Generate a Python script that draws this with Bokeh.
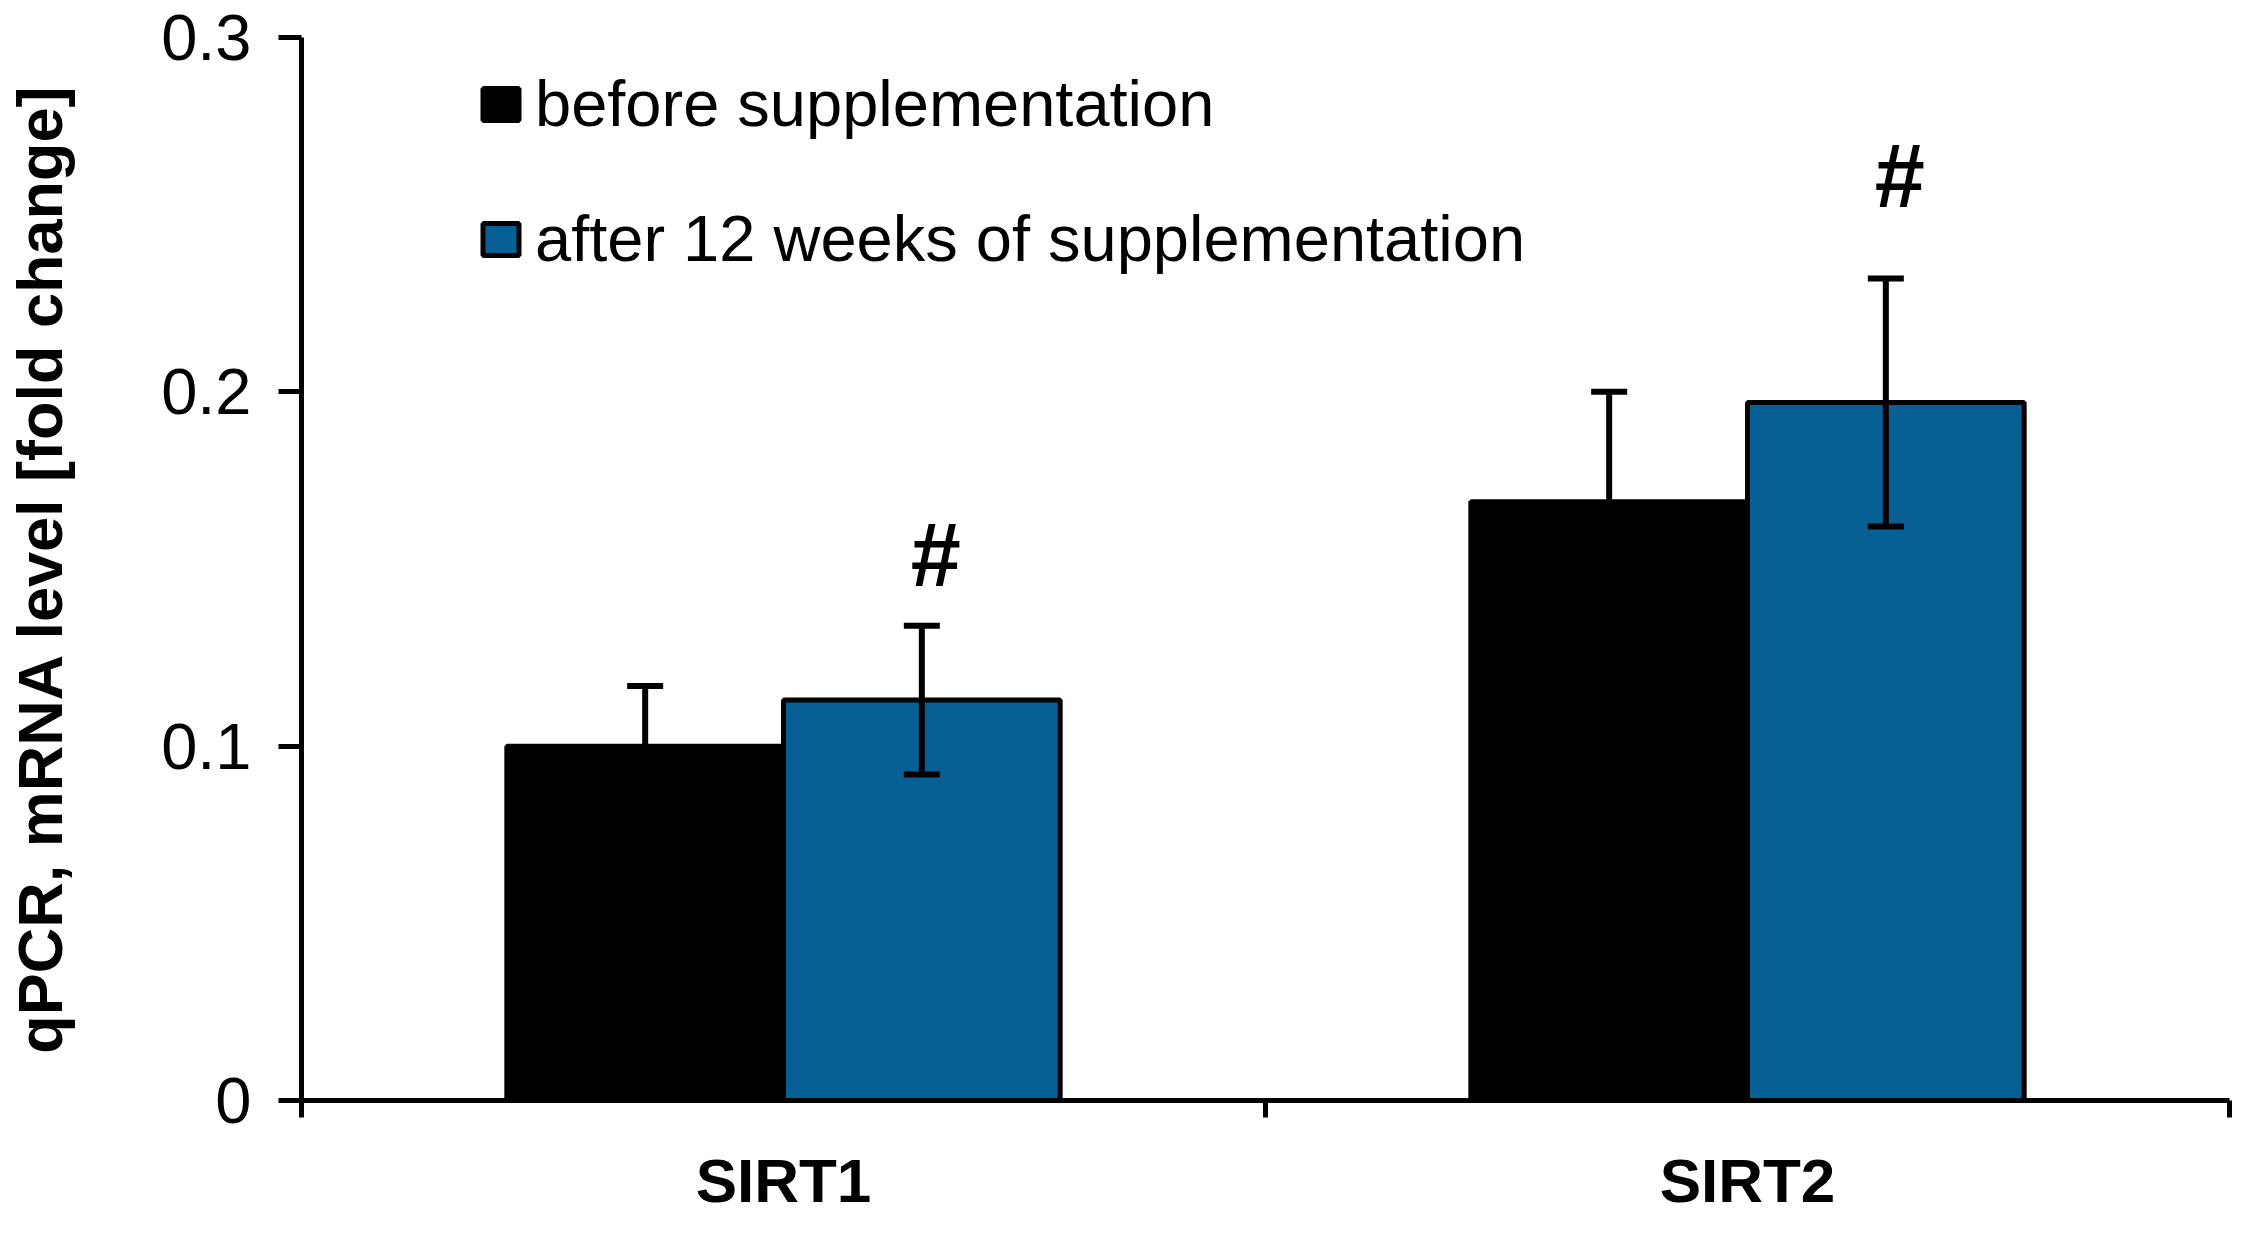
from bokeh.plotting import figure
from bokeh.models import (ColumnDataSource, Range1d, LinearAxis, FixedTicker,
                          Whisker, TeeHead, Legend, LegendItem)
from bokeh.core.properties import value
from bokeh.embed import file_html
from bokeh.resources import INLINE

# data
categories = ["SIRT1", "SIRT2"]
before = [0.100, 0.169]
before_err = [0.017, 0.031]
after = [0.113, 0.197]
after_err = [0.021, 0.035]
series_labels = ["before supplementation", "after 12 weeks of supplementation"]
marks = ["#", "#"]
mark_y = [0.154, 0.261]
y_ticks = [0, 0.1, 0.2, 0.3]
y_tick_labels = ["0", "0.1", "0.2", "0.3"]

FONT = "Liberation Sans"
BLUE = "#076094"
bar_w = 0.287
centers = [i + 0.5 for i in range(len(categories))]

src_before = ColumnDataSource(dict(
    x=[c - bar_w / 2 for c in centers], top=before,
    upper=[v + e for v, e in zip(before, before_err)],
    lower=[v - e for v, e in zip(before, before_err)]))
src_after = ColumnDataSource(dict(
    x=[c + bar_w / 2 for c in centers], top=after,
    upper=[v + e for v, e in zip(after, after_err)],
    lower=[v - e for v, e in zip(after, after_err)]))
src_marks = ColumnDataSource(dict(
    x=[c + bar_w / 2 for c in centers], y=mark_y, text=marks))

FRAME_H = 1063
p = figure(frame_width=1928, frame_height=FRAME_H,
           x_range=Range1d(0, len(categories)), y_range=Range1d(y_ticks[0], y_ticks[-1]),
           x_axis_type=None, y_axis_type=None,
           output_backend="svg", toolbar_location=None,
           min_border_left=301, min_border_right=5,
           min_border_top=37, min_border_bottom=10)
p.outline_line_color = None
p.background_fill_color = "white"

r1 = p.vbar(x="x", top="top", width=bar_w, source=src_before,
            fill_color="black", line_color="black", line_width=5)
r2 = p.vbar(x="x", top="top", width=bar_w, source=src_after,
            fill_color=BLUE, line_color="black", line_width=5)

for src in (src_before, src_after):
    w = Whisker(base="x", upper="upper", lower="lower", source=src,
                line_width=6, line_color="black", level="annotation",
                upper_head=TeeHead(size=36, line_width=6, line_color="black"),
                lower_head=TeeHead(size=36, line_width=6, line_color="black"))
    p.add_layout(w)

p.text(x="x", y="y", text="text", source=src_marks, x_offset=14,
       text_align="center", text_baseline="middle",
       text_font=value(FONT), text_font_style="bold", text_font_size="90px",
       text_color="black")

# y axis
yax = LinearAxis(ticker=FixedTicker(ticks=y_ticks, minor_ticks=[]))
yax.major_label_overrides = {t: l for t, l in zip(y_ticks, y_tick_labels)}
yax.axis_label = "qPCR, mRNA level [fold change]"
yax.axis_label_text_font = FONT
yax.axis_label_text_font_style = "bold"
yax.axis_label_text_font_size = "63px"
yax.axis_label_text_color = "black"
yax.axis_label_standoff = 83
yax.major_label_text_font = FONT
yax.major_label_text_font_size = "65px"
yax.major_label_text_color = "black"
yax.major_label_standoff = 27
yax.major_tick_in = 0
yax.major_tick_out = 23
yax.major_tick_line_width = 5
yax.axis_line_width = 5
p.add_layout(yax, "left")

# x axis: labels at category centres, ticks at the boundaries
xax = LinearAxis(ticker=FixedTicker(ticks=centers,
                                    minor_ticks=list(range(len(categories) + 1))))
xax.major_label_overrides = {c: n for c, n in zip(centers, categories)}
xax.major_label_text_font = FONT
xax.major_label_text_font_style = "bold"
xax.major_label_text_font_size = "62px"
xax.major_label_text_color = "black"
xax.major_label_standoff = 28
xax.major_tick_in = 0
xax.major_tick_out = 0
xax.minor_tick_in = 0
xax.minor_tick_out = 17
xax.minor_tick_line_width = 5
xax.axis_line_width = 5
p.add_layout(xax, "below")

legend = Legend(items=[LegendItem(label=series_labels[0], renderers=[r1]),
                       LegendItem(label=series_labels[1], renderers=[r2])],
                location=(177, 824), orientation="vertical",
                border_line_color=None, background_fill_alpha=0,
                padding=0, margin=0, spacing=60,
                glyph_width=45, glyph_height=40, label_height=70,
                label_standoff=12, label_text_font=FONT,
                label_text_color="black", label_text_font_size="65px")
p.add_layout(legend)

open("out.html", "w").write(file_html(p, INLINE))
